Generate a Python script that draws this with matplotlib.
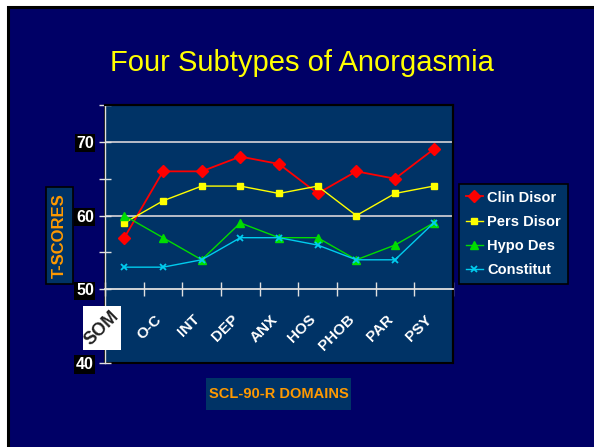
import numpy as np
import matplotlib.pyplot as plt
from matplotlib.patches import Rectangle

plt.rcParams['font.family'] = ['Liberation Sans', 'DejaVu Sans']

domains = ['SOM', 'O-C', 'INT', 'DEP', 'ANX', 'HOS', 'PHOB', 'PAR', 'PSY']
clin_disor = [57, 66, 66, 68, 67, 63, 66, 65, 69]
pers_disor = [59, 62, 64, 64, 63, 64, 60, 63, 64]
hypo_des = [60, 57, 54, 59, 57, 57, 54, 56, 59]
constitut = [53, 53, 54, 57, 57, 56, 54, 54, 59]

W, H = 594, 447
fig = plt.figure(figsize=(W / 100, H / 100), dpi=100)
fig.patch.set_facecolor('white')

def fx(px):
    return px / W

def fy(py):
    return 1 - py / H

# slide background with black frame
fig.add_artist(Rectangle((fx(7.5), -0.1), 1.2, fy(7.5) + 0.1, transform=fig.transFigure,
                         facecolor='#000066', edgecolor='black', lw=2.2, zorder=-10))

ax = fig.add_axes([fx(105), fy(363), fx(348), 258 / H])
ax.set_facecolor('#003366')
ax.patch.set_edgecolor('black')
ax.patch.set_linewidth(1.5)

x = np.arange(len(domains))
ax.plot(x, clin_disor, color='#FF0000', marker='D', ms=6.5, lw=1.3, label='Clin Disor')
ax.plot(x, pers_disor, color='#FFFF00', marker='s', ms=4.5, lw=1.0, label='Pers Disor')
ax.plot(x, hypo_des, color='#00DD00', marker='^', ms=5.5, lw=1.0, label='Hypo Des')
ax.plot(x, constitut, color='#00CCEE', marker='x', ms=4.5, mew=1.3, lw=1.0, label='Constitut')

ax.set_xlim(-0.5, len(domains) - 0.5)
ax.set_ylim(40, 75)
for g in [60, 70]:
    ax.axhline(g, color='#C8C8D0', lw=1.3, zorder=1)

for s in ['top', 'right']:
    ax.spines[s].set_color('black')
    ax.spines[s].set_linewidth(1.5)
ax.spines['left'].set_color('#E0E0E0')
ax.spines['left'].set_linewidth(1.0)
ax.spines['bottom'].set_position(('data', 50))
ax.spines['bottom'].set_color('#E0E0E0')
ax.spines['bottom'].set_linewidth(1.3)

ax.set_xticks(np.arange(-0.5, len(domains), 1.0))
ax.tick_params(axis='x', direction='inout', length=10, width=1, color='#E0E0E0', labelbottom=False)
ax.set_yticks([40, 50, 60, 70])
ax.set_yticks([45, 55, 65, 75], minor=True)
ax.tick_params(axis='y', which='both', direction='inout', length=8, width=1, color='#E0E0E0',
               labelcolor='white', labelsize=11.5, pad=4)
for lbl in ax.get_yticklabels():
    lbl.set_fontweight('bold')
    lbl.set_bbox(dict(facecolor='black', edgecolor='none', pad=1.2))

# category labels under the axis line
for i, name in enumerate(domains):
    if name == 'SOM':
        continue
    ax.text(i - 0.1, 46.2, name, rotation=45, rotation_mode='anchor', ha='right', va='center',
            color='white', fontsize=11, fontweight='bold', clip_on=False)
fig.add_artist(Rectangle((fx(83), fy(350)), fx(38), 44 / H, transform=fig.transFigure,
                         facecolor='white', edgecolor='none'))
fig.text(fx(102), fy(328), domains[0], rotation=45, ha='center', va='center',
         color='#222222', fontsize=13, fontweight='bold')

# title and axis titles
fig.text(fx(302), fy(63), 'Four Subtypes of Anorgasmia', ha='center', va='center',
         color='#FFFF00', fontsize=21)

fig.add_artist(Rectangle((fx(46), fy(284)), fx(27), 97 / H, transform=fig.transFigure,
                         facecolor='#003366', edgecolor='black', lw=1.2))
fig.text(fx(59.5), fy(235.5), 'T-SCORES', rotation=90, ha='center', va='center',
         color='#FF9900', fontsize=12, fontweight='bold')

fig.add_artist(Rectangle((fx(206), fy(410)), fx(145), 32 / H, transform=fig.transFigure,
                         facecolor='#003366', edgecolor='none'))
fig.text(fx(278.5), fy(394), 'SCL-90-R DOMAINS', ha='center', va='center',
         color='#FF9900', fontsize=10.5, fontweight='bold')

leg = fig.legend(loc='upper left', bbox_to_anchor=(fx(459), fy(184)), frameon=True,
                 facecolor='#003366', edgecolor='black', framealpha=1, fancybox=False,
                 prop=dict(weight='bold', size=10.5), labelcolor='white',
                 handlelength=1.2, handletextpad=0.3, labelspacing=0.7, borderpad=0.45,
                 borderaxespad=0)
leg.get_frame().set_linewidth(1.2)

fig.savefig('out.png', dpi=100, facecolor=fig.get_facecolor())
